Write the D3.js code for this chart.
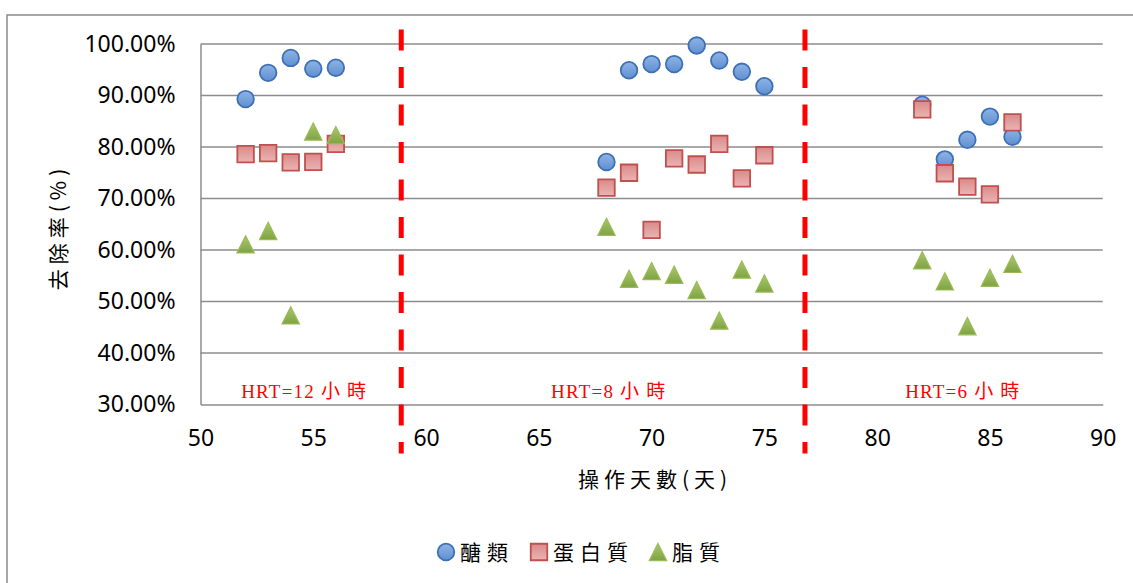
<!DOCTYPE html>
<html>
<head>
<meta charset="utf-8">
<script src="https://cdn.jsdelivr.net/npm/d3@7/dist/d3.min.js"></script>
<style>
  html, body { margin: 0; padding: 0; background: #fff; }
  svg { display: block; }
</style>
</head>
<body>
<svg id="chart" width="1133" height="583"></svg>
<script>
// Operating day for each sample
const days = [52, 53, 54, 55, 56, 68, 69, 70, 71, 72, 73, 74, 75, 82, 83, 84, 85, 86];
// Removal rate (%) per component
const sugar   = [89.3, 94.4, 97.3, 95.2, 95.4, 77.1, 94.9, 96.1, 96.1, 99.7, 96.8, 94.6, 91.8, 88.2, 77.6, 81.4, 85.9, 82.0];
const protein = [78.6, 78.8, 77.0, 77.1, 80.6, 72.1, 75.0, 63.9, 77.8, 76.6, 80.6, 73.9, 78.4, 87.3, 74.9, 72.3, 70.8, 84.8];
const lipid   = [61.1, 63.7, 47.3, 83.0, 82.3, 64.5, 54.4, 55.9, 55.2, 52.2, 46.3, 56.2, 53.5, 58.0, 53.9, 45.2, 54.6, 57.3];
const seriesNames = ["醣類", "蛋白質", "脂質"];
// HRT phase boundaries (day) and phase labels
const phaseBreaks = [58.9, 76.8];
const phaseLabels = ["HRT=12 小 時", "HRT=8 小 時", "HRT=6 小 時"];
const phaseLabelDays = [54.6, 68.1, 83.8];
const xTicks = [50, 55, 60, 65, 70, 75, 80, 85, 90];
const yTicks = [30, 40, 50, 60, 70, 80, 90, 100];

const svg = d3.select("#chart");
const x = d3.scaleLinear().domain([50, 90]).range([200.5, 1102.7]);
const y = d3.scaleLinear().domain([30, 100]).range([404.5, 44]);

// gradients for the marker fills
const defs = svg.append("defs");
function grad(id, top, bottom) {
  const g = defs.append("linearGradient").attr("id", id)
    .attr("x1", 0).attr("y1", 0).attr("x2", 0).attr("y2", 1);
  g.append("stop").attr("offset", "0%").attr("stop-color", top);
  g.append("stop").attr("offset", "100%").attr("stop-color", bottom);
}
grad("gBlue", "#8fb4e6", "#5f8fd0");
grad("gRed", "#d98b8a", "#eab4b3");
grad("gGreen", "#a8c870", "#7fa340");

// outer frame
svg.append("path")
  .attr("d", "M7,583 V15 H1133")
  .attr("fill", "none").attr("stroke", "#8a8a8a").attr("stroke-width", 1.5);

// horizontal gridlines
svg.append("g").selectAll("line").data(yTicks.filter(v => v > 30)).join("line")
  .attr("x1", x(50)).attr("x2", x(90))
  .attr("y1", d => y(d)).attr("y2", d => y(d))
  .attr("stroke", "#8c8c8c").attr("stroke-width", 1.5);

// axes
const fontNum = "'Noto Sans', 'Open Sans', sans-serif";
const gx = svg.append("g").attr("transform", `translate(0,${y(30)})`)
  .call(d3.axisBottom(x).tickValues(xTicks).tickSize(0).tickPadding(25.5));
const gy = svg.append("g").attr("transform", `translate(${x(50)},0)`)
  .call(d3.axisLeft(y).tickValues(yTicks).tickSize(0).tickPadding(25)
    .tickFormat(d => d.toFixed(2) + "%"));
[gx, gy].forEach(g => {
  g.select(".domain").attr("stroke", "#8c8c8c").attr("stroke-width", 1.5);
  g.selectAll("text").attr("font-family", fontNum).attr("font-size", 23).attr("fill", "#000");
});

// HRT phase boundaries
svg.append("g").selectAll("line").data(phaseBreaks).join("line")
  .attr("x1", d => x(d)).attr("x2", d => x(d))
  .attr("y1", y(102.8)).attr("y2", y(20.5))
  .attr("stroke", "#ff0000").attr("stroke-width", 5)
  .attr("stroke-dasharray", "21,16.5");

// phase labels
svg.append("g").selectAll("text").data(phaseLabels).join("text")
  .attr("x", (d, i) => x(phaseLabelDays[i])).attr("y", y(30) - 7)
  .attr("text-anchor", "middle")
  .attr("font-family", "'Liberation Serif', 'Noto Sans CJK TC', serif")
  .attr("font-size", 19).attr("letter-spacing", 1.2).attr("fill", "#ff0000")
  .text(d => d);

// markers
const rows = days.map((d, i) => ({ d, s: sugar[i], p: protein[i], l: lipid[i] }));
const symCircle = d3.symbol().type(d3.symbolCircle).size(Math.PI * 8.3 * 8.3);
const symSquare = d3.symbol().type(d3.symbolSquare).size(16.5 * 16.5);
const triPath = "M0,-8.6 L8.7,8.6 L-8.7,8.6 Z";

svg.append("g").selectAll("path").data(rows).join("path")
  .attr("transform", r => `translate(${x(r.d)},${y(r.s)})`)
  .attr("d", symCircle())
  .attr("fill", "url(#gBlue)").attr("stroke", "#3d70b4").attr("stroke-width", 1.8);

svg.append("g").selectAll("path").data(rows).join("path")
  .attr("transform", r => `translate(${x(r.d)},${y(r.p)})`)
  .attr("d", symSquare())
  .attr("fill", "url(#gRed)").attr("stroke", "#c0504d").attr("stroke-width", 1.8);

svg.append("g").selectAll("path").data(rows).join("path")
  .attr("transform", r => `translate(${x(r.d)},${y(r.l)})`)
  .attr("d", triPath)
  .attr("fill", "url(#gGreen)").attr("stroke", "#9bbb59").attr("stroke-width", 1.2);

// axis titles
const fontCJK = "'Noto Sans CJK TC', 'Noto Sans CJK SC', sans-serif";
svg.append("text")
  .attr("x", 655).attr("y", 487).attr("text-anchor", "middle")
  .attr("font-family", fontCJK).attr("font-size", 21).attr("letter-spacing", 5)
  .text("操作天數(天)");
svg.append("text")
  .attr("transform", "translate(66,227) rotate(-90)")
  .attr("text-anchor", "middle")
  .attr("font-family", fontCJK).attr("font-size", 21).attr("letter-spacing", 5)
  .text("去除率(%)");

// legend
const legendX = [446, 539, 658];
const lg = svg.append("g");
const legendItems = [
  { path: symCircle(), fill: "url(#gBlue)", stroke: "#3d70b4", sw: 1.8 },
  { path: symSquare(), fill: "url(#gRed)", stroke: "#c0504d", sw: 1.8 },
  { path: triPath, fill: "url(#gGreen)", stroke: "#9bbb59", sw: 1.2 }
];
legendItems.forEach((it, i) => {
  lg.append("path").attr("transform", `translate(${legendX[i]},552)`)
    .attr("d", it.path).attr("fill", it.fill).attr("stroke", it.stroke).attr("stroke-width", it.sw);
  lg.append("text").attr("x", legendX[i] + 14).attr("y", 560)
    .attr("font-family", fontCJK).attr("font-size", 21).attr("letter-spacing", 6)
    .text(seriesNames[i]);
});
</script>
</body>
</html>
